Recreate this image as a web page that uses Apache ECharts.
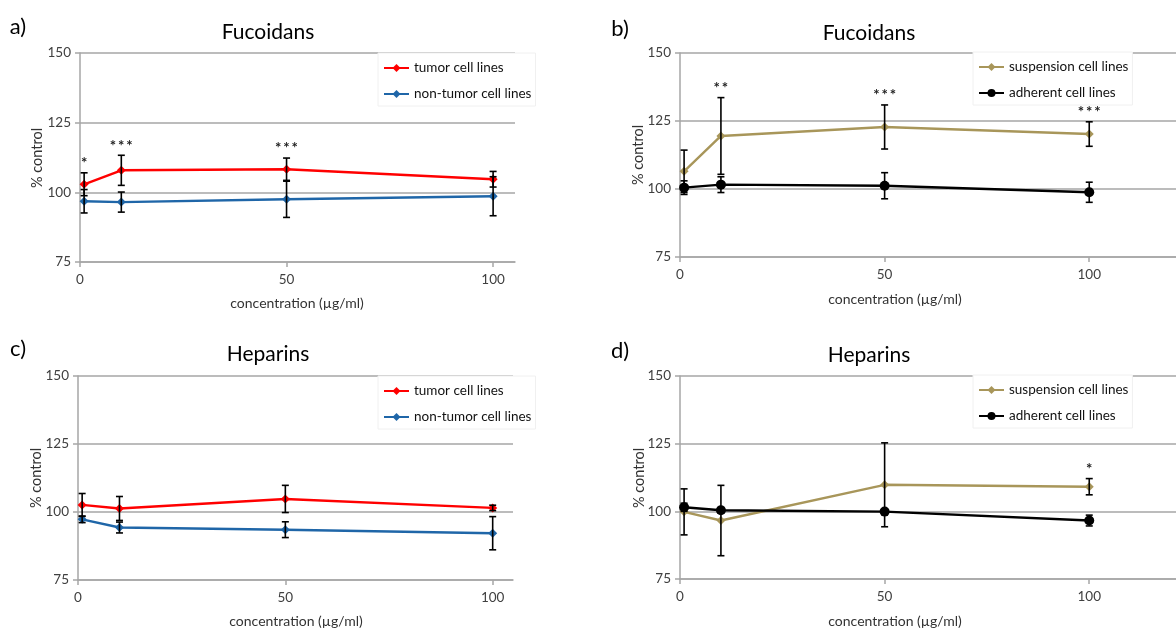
<!DOCTYPE html>
<html>
<head>
<meta charset="utf-8">
<script src="https://cdn.jsdelivr.net/npm/echarts@6/dist/echarts.min.js"></script>
<style>
html,body{margin:0;padding:0;background:#fff;}
#chart{width:1176px;height:628px;}
</style>
</head>
<body>
<div id="chart"></div>
<script>
// ---- data ----
const concentrations = [1, 10, 50, 100];
const xTicks = [0, 50, 100];
const yTicks = [75, 100, 125, 150];

// panel a) Fucoidans
const aTumor = [102.9, 107.9, 108.3, 104.7];
const aTumorErr = [4.1, 5.4, 4.0, 2.8];
const aNonTumor = [96.8, 96.5, 97.5, 98.6];
const aNonTumorErr = [4.2, 3.6, 6.5, 7.0];
const aStars = ['*', '***', '***', ''];

// panel b) Fucoidans
const bSuspension = [106.5, 119.5, 122.8, 120.2];
const bSuspensionErr = [7.8, 14.1, 8.1, 4.5];
const bAdherent = [100.5, 101.6, 101.2, 98.8];
const bAdherentErr = [2.5, 2.9, 4.8, 3.7];
const bStars = ['', '**', '***', '***'];

// panel c) Heparins
const cTumor = [102.6, 101.3, 104.8, 101.5];
const cTumorErr = [4.2, 4.4, 5.0, 1.0];
const cNonTumor = [97.3, 94.3, 93.5, 92.2];
const cNonTumorErr = [1.2, 2.0, 2.9, 6.1];

// panel d) Heparins
const dSuspension = [99.8, 96.6, 109.8, 109.1];
const dSuspensionErr = [8.5, 13.0, 15.5, 3.0];
const dAdherent = [101.5, 100.4, 99.9, 96.6];
const dAdherentErr = [1.5, 1.0, 1.0, 2.0];
const dStars = ['', '', '', '*'];

const RED = '#ff0000', BLUE = '#1f66a8', GOLD = '#a8965a', BLACK = '#000000';
const FONT = 'Lato, "Open Sans", sans-serif';
const GRIDC = '#a6a6a6';

// ---- build ----
const grids = [
  {left: 80, top: 53, width: 435, height: 209},
  {left: 680, top: 53, width: 496, height: 204},
  {left: 78, top: 376, width: 435, height: 204},
  {left: 680, top: 376, width: 496, height: 203}
];
const xMax = [105.3, 121.2, 104.9, 121.2];

function pairs(vals) { return concentrations.map((c, i) => [c, vals[i]]); }
function errData(vals, errs) { return concentrations.map((c, i) => [c, vals[i], errs[i]]); }

let errCount = 0;
function errSeries(idx, vals, errs, stars) {
  errCount++;
  return {
    type: 'custom', name: 'err' + errCount, xAxisIndex: idx, yAxisIndex: idx,
    data: errData(vals, errs), encode: {x: 0, y: 1}, z: 6, clip: false, silent: true,
    renderItem: function (params, api) {
      const x = api.value(0), y = api.value(1), e = api.value(2);
      const t = api.coord([x, y + e]), b = api.coord([x, y - e]);
      const w = 3.5;
      const st = {stroke: '#000', lineWidth: 1.6};
      const ch = [
        {type: 'line', shape: {x1: t[0], y1: t[1], x2: b[0], y2: b[1]}, style: st},
        {type: 'line', shape: {x1: t[0] - w, y1: t[1], x2: t[0] + w, y2: t[1]}, style: st},
        {type: 'line', shape: {x1: b[0] - w, y1: b[1], x2: b[0] + w, y2: b[1]}, style: st}
      ];
      const s = stars ? stars[params.dataIndex] : '';
      if (s) {
        ch.push({type: 'text', x: t[0], y: t[1] - 2,
          style: {text: s.split('').join('\u2009'), fill: '#222', font: 'bold 15px ' + FONT, align: 'center', verticalAlign: 'bottom',
                  textAlign: 'center', textVerticalAlign: 'bottom'}});
      }
      return {type: 'group', children: ch};
    }
  };
}

function lineSeries(idx, name, vals, color, symbol, size) {
  return {
    type: 'line', name: name, xAxisIndex: idx, yAxisIndex: idx, data: pairs(vals),
    symbol: symbol, symbolSize: size, showSymbol: true, z: 5,
    lineStyle: {color: color, width: 2.4}, itemStyle: {color: color},
    emphasis: {disabled: true}, animation: false
  };
}

const xAxes = grids.map((g, i) => ({
  type: 'value', gridIndex: i, min: 0, max: xMax[i],
  axisLine: {show: true, onZero: false, lineStyle: {color: GRIDC, width: 1.5}},
  axisTick: {show: true, length: 5, inside: false, customValues: xTicks, lineStyle: {color: GRIDC, width: 1.5}},
  axisLabel: {show: true, customValues: xTicks, margin: 11, color: '#404040', fontSize: 13.5, fontFamily: FONT},
  splitLine: {show: false}
}));
const yAxes = grids.map((g, i) => ({
  type: 'value', gridIndex: i, min: 75, max: 150, interval: 25,
  axisLine: {show: true, lineStyle: {color: GRIDC, width: 1.5}},
  axisTick: {show: true, length: 5, lineStyle: {color: GRIDC, width: 1.5}},
  axisLabel: {margin: 9, color: '#404040', fontSize: 13.5, fontFamily: FONT},
  splitLine: {show: true, lineStyle: {color: GRIDC, width: 1.5}}
}));

function legend(left, top, names, width) {
  return {
    orient: 'vertical', left: left, top: top, width: width,
    data: names, backgroundColor: '#ffffff', borderColor: '#f0f0f0', borderWidth: 1,
    padding: [8, 4, 5, 5], itemWidth: 25, itemHeight: 10, itemGap: 12,
    textStyle: {color: '#111', fontSize: 13.5, fontFamily: FONT}, selectedMode: false, z: 3
  };
}

const series = [
  lineSeries(0, 'tumor cell lines', aTumor, RED, 'diamond', 9),
  lineSeries(0, 'non-tumor cell lines', aNonTumor, BLUE, 'diamond', 9),
  errSeries(0, aTumor, aTumorErr, aStars),
  errSeries(0, aNonTumor, aNonTumorErr, null),

  lineSeries(1, 'suspension cell lines', bSuspension, GOLD, 'diamond', 9),
  lineSeries(1, 'adherent cell lines', bAdherent, BLACK, 'circle', 10),
  errSeries(1, bSuspension, bSuspensionErr, bStars),
  errSeries(1, bAdherent, bAdherentErr, null),

  lineSeries(2, 'tumor cell lines', cTumor, RED, 'diamond', 9),
  lineSeries(2, 'non-tumor cell lines', cNonTumor, BLUE, 'diamond', 9),
  errSeries(2, cTumor, cTumorErr, null),
  errSeries(2, cNonTumor, cNonTumorErr, null),

  lineSeries(3, 'suspension cell lines', dSuspension, GOLD, 'diamond', 9),
  lineSeries(3, 'adherent cell lines', dAdherent, BLACK, 'circle', 10),
  errSeries(3, dSuspension, dSuspensionErr, dStars),
  errSeries(3, dAdherent, dAdherentErr, null)
];

function txt(text, x, y, size, rot, color) {
  return {type: 'text', x: x, y: y, rotation: rot || 0, z: 20,
    style: {text: text, fill: color || '#000', font: size + 'px ' + FONT,
            align: 'center', verticalAlign: 'middle', textAlign: 'center', textVerticalAlign: 'middle'}};
}

const graphics = [
  txt('a)', 18, 27, 22), txt('b)', 620, 29, 22), txt('c)', 18, 349, 22), txt('d)', 620, 351, 22),
  txt('Fucoidans', 268, 32, 21), txt('Fucoidans', 869, 33, 21),
  txt('Heparins', 268, 354, 21), txt('Heparins', 869, 355, 21),
  txt('% control', 37, 158, 14.5, Math.PI / 2, '#333'), txt('% control', 638, 155, 14.5, Math.PI / 2, '#333'),
  txt('% control', 36, 478, 14.5, Math.PI / 2, '#333'), txt('% control', 639, 478, 14.5, Math.PI / 2, '#333'),
  txt('concentration (µg/ml)', 297, 303, 14, 0, '#333'), txt('concentration (µg/ml)', 895, 299, 14, 0, '#333'),
  txt('concentration (µg/ml)', 296, 621, 14, 0, '#333'), txt('concentration (µg/ml)', 895, 621, 14, 0, '#333')
];

const chart = echarts.init(document.getElementById('chart'), null, {renderer: 'canvas'});
chart.setOption({
  animation: false,
  backgroundColor: '#ffffff',
  grid: grids,
  xAxis: xAxes,
  yAxis: yAxes,
  legend: [
    legend(378, 53, ['tumor cell lines', 'non-tumor cell lines'], 130),
    legend(973, 52, ['suspension cell lines', 'adherent cell lines'], 200),
    legend(378, 376, ['tumor cell lines', 'non-tumor cell lines'], 130),
    legend(973, 375, ['suspension cell lines', 'adherent cell lines'], 200)
  ],
  series: series,
  graphic: graphics
});
</script>
</body>
</html>
